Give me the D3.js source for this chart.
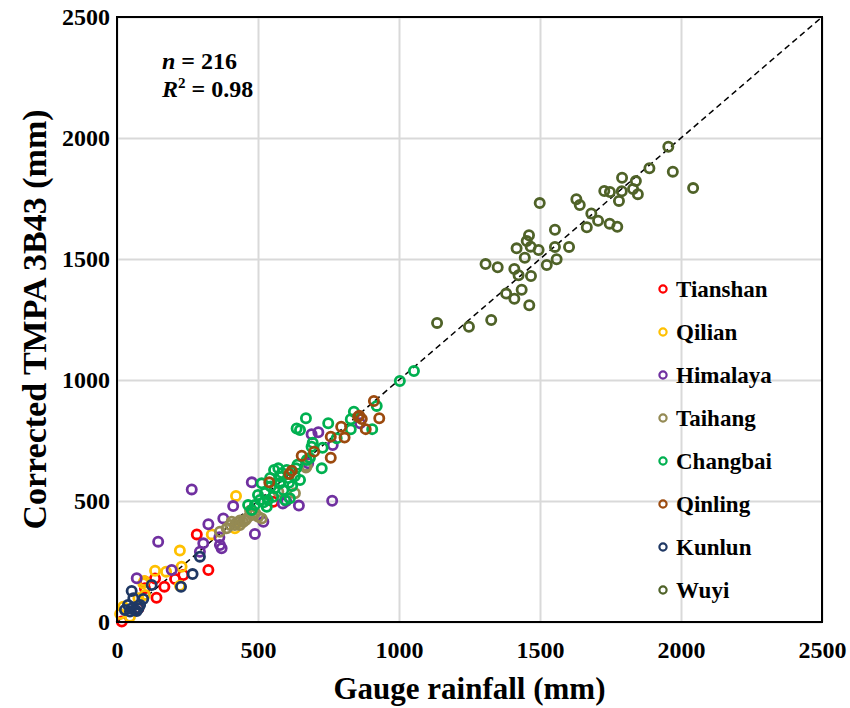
<!DOCTYPE html>
<html>
<head>
<meta charset="utf-8">
<script src="https://cdn.jsdelivr.net/npm/d3@7"></script>
<style>
  body { margin: 0; background: #fff; }
  text { font-family: "Liberation Serif", "Times New Roman", serif; font-weight: bold; }
</style>
</head>
<body>
<svg id="chart"></svg>
<script>
// gauge (x) vs corrected TMPA 3B43 (y), mm, per region
const tianshan = [[17,2],[76,57],[99,139],[135,180],[168,146],[206,178],[235,194],[99,167],[324,215],[283,362],[554,497],[140,100]]
const qilian = [[93,160],[22,63],[46,22],[99,112],[97,169],[135,212],[174,208],[229,228],[223,295],[223,150],[336,362],[418,387],[422,521],[76,98],[11,33]]
const himalaya = [[70,181],[194,215],[146,332],[294,290],[306,325],[324,404],[363,350],[377,428],[412,479],[489,364],[519,414],[371,305],[478,577],[265,548],[645,481],[588,490],[763,501],[678,656],[714,784],[690,776],[765,731],[862,821],[365,318],[600,500]]
const taihang = [[365,373],[401,401],[436,419],[460,428],[501,435],[472,460],[513,428],[572,538],[631,532],[673,645],[670,638],[389,387],[407,414],[436,401],[418,401],[479,442],[447,413],[425,410],[490,450],[455,420]]
const changbai = [[670,842],[749,821],[637,800],[829,838],[840,869],[921,893],[905,797],[829,796],[779,759],[694,741],[690,724],[729,720],[726,635],[673,669],[649,793],[684,678],[572,635],[602,628],[635,635],[513,573],[578,573],[590,545],[613,511],[554,518],[507,504],[489,483],[531,476],[478,463],[543,595],[606,595],[560,554],[525,533],[621,562],[649,587],[585,616],[500,525],[465,483],[535,504],[596,504],[631,603],[557,628],[545,560],[610,575],[520,495],[580,600],[640,650],[1003,996],[1053,1037]]
const qinling = [[911,913],[859,852],[855,848],[868,839],[930,842],[882,797],[795,807],[758,766],[807,762],[699,704],[655,687],[758,679],[611,612],[540,577],[620,625]]
const kunlun = [[294,270],[268,198],[227,146],[123,153],[52,128],[58,98],[93,95],[28,50],[64,50],[46,43],[76,57],[82,70],[39,70],[50,55],[70,45]]
const wuyi = [[1955,1964],[1888,1875],[1971,1861],[2043,1793],[1791,1836],[1840,1822],[1830,1789],[1847,1768],[1790,1780],[1728,1781],[1748,1777],[1780,1740],[1629,1747],[1641,1723],[1499,1731],[1682,1688],[1706,1658],[1747,1646],[1774,1633],[1666,1631],[1553,1621],[1461,1598],[1453,1574],[1467,1551],[1417,1544],[1495,1537],[1553,1550],[1603,1550],[1446,1505],[1524,1475],[1559,1499],[1307,1479],[1350,1466],[1409,1459],[1424,1433],[1468,1430],[1435,1373],[1380,1357],[1409,1336],[1462,1309],[1327,1248],[1248,1220],[1135,1236]]

const regions = ['Tianshan', 'Qilian', 'Himalaya', 'Taihang', 'Changbai', 'Qinling', 'Kunlun', 'Wuyi']
const regionData = [tianshan, qilian, himalaya, taihang, changbai, qinling, kunlun, wuyi]
const regionColors = ['#ff0000', '#ffc000', '#7030a0', '#948a54', '#00b050', '#9c4a0e', '#1f3864', '#4f6228']
const ticks = [0, 500, 1000, 1500, 2000, 2500]

const W = 850, H = 708
const m = { left: 117, right: 28, top: 17, bottom: 86 }
const w = W - m.left - m.right
const h = H - m.top - m.bottom

const svg = d3.select('#chart').attr('width', W).attr('height', H)
const g = svg.append('g').attr('transform', `translate(${m.left},${m.top})`)

const x = d3.scaleLinear().domain([0, 2500]).range([0, w])
const y = d3.scaleLinear().domain([0, 2500]).range([h, 0])

// gridlines
g.append('g')
    .attr('transform', `translate(0,${h})`)
    .call(d3.axisBottom(x).tickValues(ticks).tickSize(-h).tickFormat(''))
    .call(a => a.select('.domain').remove())
    .call(a => a.selectAll('line').attr('stroke', '#d9d9d9').attr('stroke-width', 2))
g.append('g')
    .call(d3.axisLeft(y).tickValues(ticks).tickSize(-w).tickFormat(''))
    .call(a => a.select('.domain').remove())
    .call(a => a.selectAll('line').attr('stroke', '#d9d9d9').attr('stroke-width', 2))

// tick labels
g.append('g')
    .attr('transform', `translate(0,${h})`)
    .call(d3.axisBottom(x).tickValues(ticks).tickSize(0).tickPadding(19).tickFormat(d3.format('d')))
    .call(a => a.select('.domain').remove())
    .call(a => a.selectAll('text').attr('font-size', 24).attr('fill', '#000')
        .style('font-family', '"Liberation Serif", serif'))
g.append('g')
    .call(d3.axisLeft(y).tickValues(ticks).tickSize(0).tickPadding(7).tickFormat(d3.format('d')))
    .call(a => a.select('.domain').remove())
    .call(a => a.selectAll('text').attr('font-size', 24).attr('fill', '#000')
        .style('font-family', '"Liberation Serif", serif'))

// 1:1 line
g.append('line')
    .attr('x1', x(0)).attr('y1', y(0))
    .attr('x2', x(2500)).attr('y2', y(2500))
    .attr('stroke', '#000').attr('stroke-width', 1.5).attr('stroke-dasharray', '6,4')

// points
regionData.forEach((pts, i) => {
    g.append('g').selectAll('circle').data(pts).enter()
        .append('circle')
        .attr('cx', d => x(d[0]))
        .attr('cy', d => y(d[1]))
        .attr('r', 4.6)
        .attr('fill', 'none')
        .attr('stroke', regionColors[i])
        .attr('stroke-width', 2.8)
})

// frame
g.append('rect')
    .attr('width', w).attr('height', h)
    .attr('fill', 'none').attr('stroke', '#000').attr('stroke-width', 2)

// stats
const stats = g.append('text').attr('x', 45).attr('font-size', 24)
stats.append('tspan').attr('y', 52).text('n').attr('font-style', 'italic')
stats.append('tspan').text(' = 216')
const r2 = g.append('text').attr('x', 45).attr('y', 80).attr('font-size', 24)
r2.append('tspan').text('R').attr('font-style', 'italic')
r2.append('tspan').text('2').attr('font-size', 15).attr('dy', -9)
r2.append('tspan').text(' = 0.98').attr('dy', 9)

// legend
const lg = g.append('g').attr('transform', `translate(${546},${272})`)
regions.forEach((name, i) => {
    const row = lg.append('g').attr('transform', `translate(0,${i * 43})`)
    row.append('circle').attr('r', 3.6).attr('fill', 'none')
        .attr('stroke', regionColors[i]).attr('stroke-width', 2.2)
    row.append('text').attr('x', 13).attr('dy', '0.33em').attr('font-size', 23).text(name)
})

// axis titles
svg.append('text')
    .attr('x', m.left + w / 2).attr('y', 699)
    .attr('text-anchor', 'middle').attr('font-size', 31)
    .text('Gauge rainfall (mm)')
svg.append('text')
    .attr('transform', `translate(46,${m.top + h / 2}) rotate(-90)`)
    .attr('text-anchor', 'middle').attr('font-size', 34)
    .text('Corrected TMPA 3B43 (mm)')
</script>
</body>
</html>
